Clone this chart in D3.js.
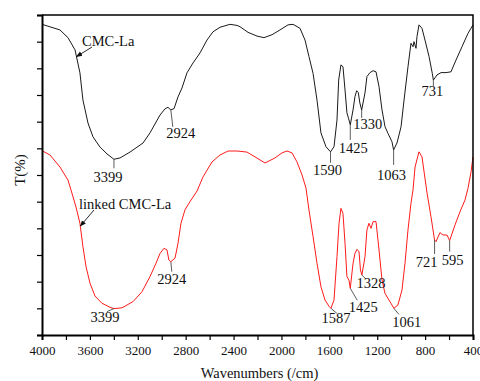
<!DOCTYPE html>
<html>
<head>
<meta charset="utf-8">
<script src="https://cdn.jsdelivr.net/npm/d3@7"></script>
<style>
  html, body { margin: 0; padding: 0; background: #fff; }
  svg { display: block; }
  text { font-family: "Liberation Serif", "Times New Roman", serif; fill: #111; }
</style>
</head>
<body>
<svg id="chart" width="480" height="381"></svg>
<script>
// FT-IR spectra: wavenumber (cm^-1) and transmittance (arbitrary offset units)
const cmcWavenumber = [4000,3850,3783,3724,3683,3658,3616,3574,3516,3457,3399,3348,3265,3156,3098,3014,2973,2948,2924,2897,2864,2831,2789,2739,2680,2622,2572,2513,2430,2371,2346,2279,2204,2146,2079,2012,1945,1903,1845,1803,1770,1736,1703,1670,1628,1590,1561,1536,1522,1503,1486,1469,1453,1440,1425,1402,1386,1372,1358,1345,1330,1302,1286,1260,1235,1210,1185,1160,1135,1110,1077,1063,1035,1001,976,943,918,901,893,876,868,851,826,801,767,740,731,701,667,625,584,542,492,442,400];
const cmcT = [116.5,114.4,111.5,106.9,98.3,88.1,79.5,74.3,70.5,67.9,65.9,66.4,68.6,72.0,75.8,82.5,84.8,85.4,84.4,84.9,89.3,92.6,98.3,102.0,105.8,110.6,113.7,115.4,116.5,116.1,115.6,113.5,112.1,111.5,112.6,114.4,116.3,116.5,115.0,110.6,104.4,98.1,88.1,75.8,70.6,68.7,70.6,80.6,95.6,101.3,100.6,91.9,83.3,81.3,78.8,84.4,89.4,91.6,90.9,87.0,84.4,90.8,96.9,98.4,99.1,98.7,93.1,84.4,78.1,75.6,72.5,69.4,72.0,78.1,88.1,100.6,109.4,108.1,110.0,107.5,111.9,116.3,115.0,110.6,104.4,98.1,95.6,97.5,98.4,98.4,98.7,103.1,108.1,113.1,116.3];

const linkedWavenumber = [4000,3933,3850,3783,3758,3716,3683,3658,3632,3599,3557,3499,3432,3399,3332,3240,3165,3098,3048,3014,2981,2956,2940,2924,2889,2864,2839,2806,2764,2705,2655,2580,2513,2446,2371,2288,2221,2137,2054,1995,1954,1912,1870,1828,1795,1770,1736,1703,1670,1636,1600,1587,1561,1536,1519,1503,1486,1469,1453,1436,1425,1402,1386,1369,1352,1340,1328,1302,1286,1269,1252,1235,1210,1185,1160,1135,1102,1085,1061,1027,993,968,943,918,901,884,851,826,784,751,721,709,676,651,617,595,550,509,467,442,417,400];
const linkedT = [69.1,67.5,63.0,58.1,54.4,48.0,41.9,33.1,25.6,19.4,14.6,11.9,10.4,9.9,10.2,12.5,16.2,21.9,26.9,30.6,32.5,31.9,28.1,27.5,28.8,34.4,41.9,46.9,50.0,54.0,59.3,64.9,67.5,69.0,69.0,68.6,66.8,64.5,66.4,68.3,69.0,68.3,64.9,60.0,55.1,46.9,36.9,26.9,18.1,13.1,10.6,10.0,13.1,29.4,41.9,47.5,45.6,34.4,21.9,20.6,17.5,26.9,30.6,32.1,31.2,24.4,22.5,29.4,39.4,41.9,40.0,42.5,42.5,31.9,20.6,15.6,13.1,11.9,10.0,11.25,16.9,26.9,39.4,49.4,54.4,63.0,68.7,66.8,53.3,44.4,35.6,35.0,38.4,37.5,37.5,35.4,41.3,46.2,50.6,55.0,61.0,66.8];

// Peak positions labelled on each spectrum
const cmcPeaks = [3399, 2924, 1590, 1425, 1330, 1063, 731];
const linkedPeaks = [3399, 2924, 1587, 1425, 1328, 1061, 721, 595];

const xTickValues = [4000,3600,3200,2800,2400,2000,1600,1200,800,400];
const seriesNames = ["CMC-La", "linked CMC-La"];
const xTitle = "Wavenumbers (/cm)";
const yTitle = "T(%)";

const margin = { left: 42, right: 7, top: 15, bottom: 46 };
const W = 480, H = 381;
const svg = d3.select("#chart");

const x = d3.scaleLinear().domain([4000, 400]).range([margin.left, W - margin.right]);
const y = d3.scaleLinear().domain([0, 120]).range([H - margin.bottom, margin.top]);

const cmc = cmcWavenumber.map((w, i) => ({ w, t: cmcT[i] }));
const linked = linkedWavenumber.map((w, i) => ({ w, t: linkedT[i] }));

function valueAt(data, w) {
  for (let i = 0; i < data.length - 1; i++) {
    const a = data[i], b = data[i + 1];
    if (w <= a.w && w >= b.w) {
      const f = (a.w - w) / (a.w - b.w);
      return a.t + f * (b.t - a.t);
    }
  }
  return data[data.length - 1].t;
}

const line = d3.line().x(d => x(d.w)).y(d => y(d.t));

svg.append("path").datum(cmc).attr("d", line)
  .attr("fill", "none").attr("stroke", "#1a1a1a").attr("stroke-width", 1);
svg.append("path").datum(linked).attr("d", line)
  .attr("fill", "none").attr("stroke", "#ff1a1a").attr("stroke-width", 1);

// Axes
const xAxis = d3.axisBottom(x)
  .tickValues(d3.range(4000, 399, -200))
  .tickSize(5)
  .tickFormat(d => xTickValues.includes(d) ? d : "");
const gx = svg.append("g").attr("transform", `translate(0,${H - margin.bottom})`).call(xAxis);
gx.select(".domain").attr("stroke", "#000").attr("stroke-width", 2);
gx.selectAll(".tick line").attr("stroke", "#000").attr("stroke-width", 1.2);
gx.selectAll(".tick text").attr("font-size", 13).attr("dy", "0.95em")
  .style("font-family", '"Liberation Serif", "Times New Roman", serif').attr("fill", "#111");

const yAxis = d3.axisLeft(y).tickValues(d3.range(0, 121, 10)).tickSize(5).tickFormat("");
const gy = svg.append("g").attr("transform", `translate(${margin.left},0)`).call(yAxis);
gy.select(".domain").attr("stroke", "#000").attr("stroke-width", 2);
gy.selectAll(".tick line").attr("stroke", "#000").attr("stroke-width", 1.2);

// Top and right frame
svg.append("path")
  .attr("d", `M${margin.left},${margin.top}H${W - margin.right}V${H - margin.bottom}`)
  .attr("fill", "none").attr("stroke", "#000").attr("stroke-width", 1.5);

// Axis titles
svg.append("text").attr("x", (x.range()[0] + x.range()[1]) / 2 + 2).attr("y", 378)
  .attr("text-anchor", "middle").attr("font-size", 14.5).text(xTitle);
svg.append("text").attr("transform", "translate(25,170) rotate(-90)")
  .attr("text-anchor", "middle").attr("font-size", 15).text(yTitle);

// Peak annotations: leader offset (lx, ly) and label offset (tx, ty) in pixels
const cmcLayout = {
  3399: [0, 9, -6, 23], 2924: [2, 17, 10, 28], 1590: [0, 11, -3, 23],
  1425: [0, 15, 3, 28], 1330: [0, 8, 6, 19], 1063: [0, 15, -2, 30], 731: [0, 6, -1, 16]
};
const linkedLayout = {
  3399: [-7, 3, -9, 13], 2924: [1, 10, 1, 22], 1587: [6, 5, 5, 15],
  1425: [7, 12, 13, 24], 1328: [3, 3, 9, 13], 1061: [5, 6, 13, 19],
  721: [0, 14, -8, 27], 595: [0, 11, 3, 24]
};

function annotate(data, peaks, layout) {
  const g = svg.append("g");
  peaks.forEach(p => {
    const px = x(p), py = y(valueAt(data, p));
    const [lx, ly, tx, ty] = layout[p];
    g.append("line").attr("x1", px).attr("y1", py).attr("x2", px + lx).attr("y2", py + ly)
      .attr("stroke", "#333").attr("stroke-width", 0.8);
    g.append("text").attr("x", px + tx).attr("y", py + ty)
      .attr("text-anchor", "middle").attr("font-size", 14.5).text(p);
  });
}
annotate(cmc, cmcPeaks, cmcLayout);
annotate(linked, linkedPeaks, linkedLayout);

// Series name labels with arrows
svg.append("defs").append("marker")
  .attr("id", "arrow").attr("viewBox", "0 0 10 10").attr("refX", 9).attr("refY", 5)
  .attr("markerWidth", 7).attr("markerHeight", 7).attr("orient", "auto")
  .append("path").attr("d", "M0,1L10,5L0,9Z").attr("fill", "#111");

function seriesLabel(data, name, w, textPos, tail) {
  const tipX = x(w), tipY = y(valueAt(data, w));
  svg.append("line").attr("x1", tail[0]).attr("y1", tail[1]).attr("x2", tipX).attr("y2", tipY)
    .attr("stroke", "#111").attr("stroke-width", 0.9).attr("marker-end", "url(#arrow)");
  svg.append("text").attr("x", textPos[0]).attr("y", textPos[1]).attr("font-size", 14.5).text(name);
}
seriesLabel(cmc, seriesNames[0], 3712, [82, 46], [92, 47]);
seriesLabel(linked, seriesNames[1], 3680, [79, 209], [94, 210]);
</script>
</body>
</html>
